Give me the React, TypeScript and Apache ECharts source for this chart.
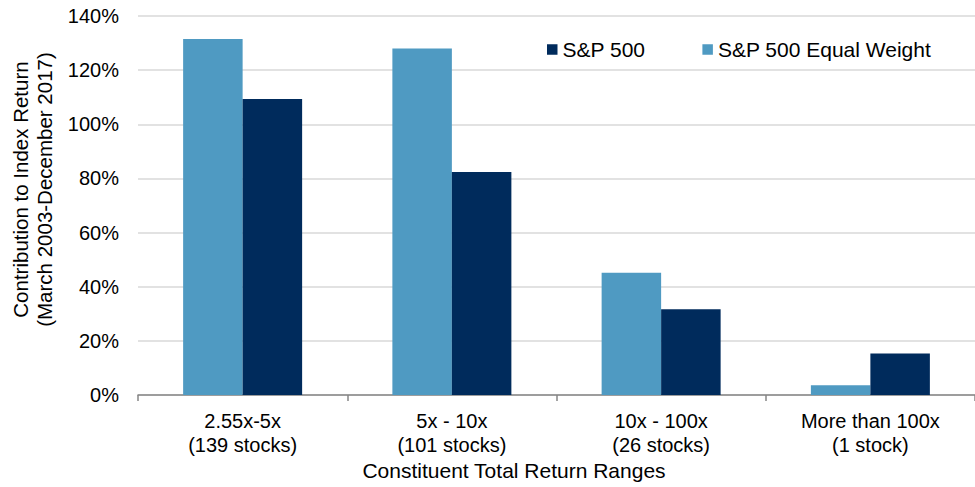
import React, { useEffect, useRef } from "react";
import * as echarts from "echarts";

const categories = [
  "2.55x-5x\n(139 stocks)",
  "5x - 10x\n(101 stocks)",
  "10x - 100x\n(26 stocks)",
  "More than 100x\n(1 stock)",
];
const equalWeight = [131.5, 128.0, 45.2, 3.6];
const sp500 = [109.3, 82.4, 31.7, 15.3];
const yTicks = [0, 20, 40, 60, 80, 100, 120, 140];

const FONT = "'Liberation Sans', Arial, sans-serif";

export default function App() {
  const ref = useRef<HTMLDivElement>(null);
  useEffect(() => {
    if (!ref.current) return;
    const chart = echarts.init(ref.current, undefined, { renderer: "svg" });
    chart.setOption({
      animation: false,
      textStyle: { fontFamily: FONT },
      grid: { left: 138, right: 0, top: 16, bottom: 92, containLabel: false },
      legend: {
        data: ["S&P 500", "S&P 500 Equal Weight"],
        left: 542,
        top: 34,
        icon: "rect",
        itemWidth: 10.5,
        itemHeight: 10.5,
        itemGap: 57,
        textStyle: { fontSize: 21, color: "#000", fontFamily: FONT },
      },
      xAxis: {
        type: "category",
        data: categories,
        axisLine: { lineStyle: { color: "#868686", width: 1.5 } },
        axisTick: { show: true, length: 6, lineStyle: { color: "#868686", width: 1.5 } },
        axisLabel: { fontSize: 20, color: "#000", lineHeight: 24, margin: 14, fontFamily: FONT },
      },
      yAxis: {
        type: "value",
        min: yTicks[0],
        max: yTicks[yTicks.length - 1],
        interval: 20,
        name: "Contribution to Index Return\n(March 2003-December 2017)",
        nameLocation: "middle",
        nameGap: 79,
        nameRotate: 90,
        nameTextStyle: {
          fontSize: 20.5,
          color: "#000",
          lineHeight: 24,
          fontFamily: FONT,
          padding: [0, 0, 0, 32],
        },
        axisLine: { show: false },
        axisTick: { show: false },
        axisLabel: { fontSize: 20, color: "#000", margin: 19, formatter: "{value}%", fontFamily: FONT },
        splitLine: { lineStyle: { color: "#d9d9d9", width: 1.5 } },
      },
      series: [
        {
          name: "S&P 500 Equal Weight",
          type: "bar",
          data: equalWeight,
          barWidth: 59.5,
          barGap: "0%",
          itemStyle: { color: "#4f9ac2" },
        },
        {
          name: "S&P 500",
          type: "bar",
          data: sp500,
          barWidth: 59.5,
          barGap: "0%",
          itemStyle: { color: "#002b5c" },
        },
      ],
      graphic: [
        {
          type: "text",
          x: 514,
          y: 470,
          style: {
            text: "Constituent Total Return Ranges",
            fontSize: 21,
            fill: "#000",
            fontFamily: FONT,
            align: "center",
            verticalAlign: "middle",
          },
        },
      ],
    });
    return () => chart.dispose();
  }, []);
  return <div ref={ref} style={{ width: 975, height: 487, position: "absolute", left: 0, top: 0 }} />;
}
